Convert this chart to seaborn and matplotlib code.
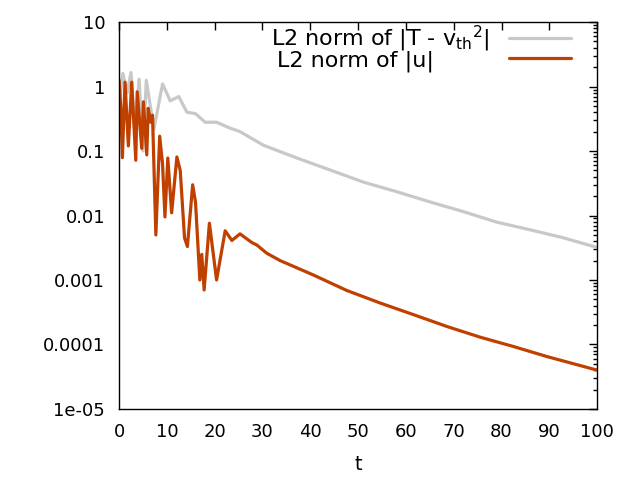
import numpy as np
import pandas as pd
import matplotlib
matplotlib.use('Agg')
import matplotlib.pyplot as plt
from matplotlib.ticker import LogLocator, NullFormatter
import seaborn as sns

# values (t, norm)
t_T = [0, 0.8, 1.7, 2.5, 3.3, 4.2, 5.0, 5.7, 7.3, 9.1, 10.7, 12.5, 14.2, 16.0,
       18.0, 20.4, 23.0, 25.3, 30.2, 37.2, 44.1, 51.1, 58.1, 65.1, 72, 79, 86, 93, 100]
norm_T = [0.52, 1.6, 0.8, 1.65, 0.2, 1.3, 0.1, 1.25, 0.22, 1.1, 0.6, 0.7, 0.4, 0.38,
          0.28, 0.28, 0.23, 0.2, 0.123, 0.078, 0.051, 0.033, 0.0234, 0.0162, 0.0115,
          0.0079, 0.006, 0.0045, 0.0032]

t_u = [0, 0.35, 0.7, 1.25, 1.95, 2.65, 3.5, 3.8, 4.75, 5.1, 5.8, 6.1, 6.6, 7.0, 7.7,
       8.5, 9.1, 9.6, 10.2, 11.0, 12.1, 12.8, 13.7, 14.3, 15.4, 16.0, 16.9, 17.3, 17.8,
       18.9, 20.4, 22.2, 23.6, 25.3, 27.8, 28.8, 30.9, 33.7, 40.6, 47.6, 54.6, 61.6,
       68.6, 75.5, 82.5, 89.5, 100]
norm_u = [1.26, 0.5, 0.079, 1.17, 0.12, 1.17, 0.072, 0.83, 0.11, 0.58, 0.087, 0.46,
          0.28, 0.36, 0.005, 0.17, 0.063, 0.0095, 0.078, 0.011, 0.081, 0.05, 0.0045,
          0.0033, 0.03, 0.016, 0.001, 0.0025, 0.0007, 0.0076, 0.001, 0.0058, 0.0041,
          0.0052, 0.0038, 0.0035, 0.0026, 0.002, 0.0012, 0.00069, 0.00044, 0.00029,
          0.00019, 0.00013, 0.000093, 0.000065, 0.00004]

ytick_vals = [1e-5, 1e-4, 1e-3, 1e-2, 1e-1, 1, 10]
ytick_labels = ['1e-05', '0.0001', '0.001', '0.01', '0.1', '1', '10']
xtick_vals = list(range(0, 101, 10))

label_T = r'L2 norm of |T - $\mathrm{v}_{\mathrm{th}}{}^{2}$|'
label_u = 'L2 norm of |u|'

sns.set_style('white')
plt.rcParams['font.family'] = ['DejaVu Sans']
plt.rcParams['mathtext.fontset'] = 'dejavusans'
plt.rcParams['font.size'] = 13
plt.rcParams['text.color'] = 'black'
plt.rcParams['axes.labelcolor'] = 'black'

fig = plt.figure(figsize=(6.4, 4.8), dpi=100)
ax = fig.add_axes([0.186, 0.148, 0.747, 0.806])

sns.lineplot(x=t_T, y=norm_T, color='#c8c8c8', linewidth=2.3, label=label_T, ax=ax)
sns.lineplot(x=t_u, y=norm_u, color='#c04000', linewidth=2.3, label=label_u, ax=ax)

ax.set_yscale('log')
ax.set_xlim(0, 100)
ax.set_ylim(1e-5, 10)
ax.set_xticks(xtick_vals)
ax.set_yticks(ytick_vals, ytick_labels)
ax.yaxis.set_minor_locator(LogLocator(base=10, subs=np.arange(2, 10)))
ax.yaxis.set_minor_formatter(NullFormatter())
ax.set_xlabel('t', fontsize=14, labelpad=10)

for s in ax.spines.values():
    s.set_color('black')
    s.set_linewidth(1.0)
ax.tick_params(which='both', direction='in', top=True, right=True, colors='black',
               labelsize=13, width=1.0)
ax.tick_params(which='major', length=6, pad=10)
ax.tick_params(which='minor', length=3)

leg = ax.legend(loc='upper right', bbox_to_anchor=(0.946, 0.995), frameon=False,
                markerfirst=False, handlelength=2.8, handletextpad=0.9,
                borderpad=0, borderaxespad=0, labelspacing=-0.18, fontsize=16)
# gnuplot's key leaves the shorter label short of the sample line
rows = leg._legend_handle_box.get_children()[0].get_children()
rows[1].sep = 54

fig.savefig('out.png', dpi=100)
